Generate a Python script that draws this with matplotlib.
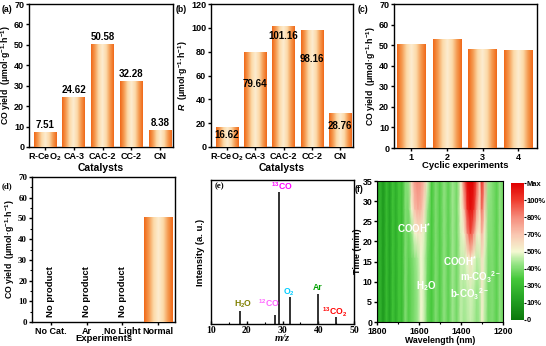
import matplotlib
matplotlib.use('Agg')
import matplotlib.pyplot as plt
import numpy as np
from matplotlib.colors import LinearSegmentedColormap

plt.rcParams['font.family'] = ['Liberation Sans', 'DejaVu Sans']
plt.rcParams['font.weight'] = 'bold'
plt.rcParams['axes.labelweight'] = 'bold'
plt.rcParams['font.size'] = 6.5
plt.rcParams['mathtext.fontset'] = 'custom'
plt.rcParams['mathtext.rm'] = 'Liberation Sans:bold'
plt.rcParams['mathtext.it'] = 'Liberation Sans:bold:italic'
plt.rcParams['mathtext.bf'] = 'Liberation Sans:bold'
plt.rcParams['axes.linewidth'] = 1.0

# ---- data ----
catalysts = ['R-CeO$_2$', 'CA-3', 'CAC-2', 'CC-2', 'CN']
co_yield = [7.51, 24.62, 50.58, 32.28, 8.38]
r_rate = [16.62, 79.64, 101.16, 98.16, 28.76]
r_label_y = [6.2, 26.6, 8.0, 24.6, 11.4]   # label sits this far below the bar top

cycles = ['1', '2', '3', '4']
cycle_yield = [50.6, 52.8, 48.3, 47.6]

experiments = ['No Cat.', 'Ar', 'No Light', 'Normal']
exp_yield = [0, 0, 0, 50.58]

mz = [18, 28, 29, 32, 40, 45]
ms_int = [0.088, 0.062, 0.92, 0.19, 0.206, 0.046]
ms_names = ['H$_2$O', '$^{12}$CO', '$^{13}$CO', 'O$_2$', 'Ar', '$^{13}$CO$_2$']
ms_colors = ['#808000', '#ff66ff', '#ff00ff', '#00ccff', '#00a000', '#ff0000']
ms_text_x = [18.9, 26.1, 29.7, 31.9, 39.9, 44.7]
ms_text_y = [0.137, 0.148, 0.96, 0.22, 0.255, 0.078]

# heat map: wavelength columns x time rows (relative intensity 0..1)
wl = [1800, 1785, 1770, 1755, 1740, 1725, 1710, 1695, 1680, 1665, 1650, 1635, 1620,
      1605, 1590, 1575, 1560, 1540, 1520, 1500, 1480, 1460, 1440, 1420, 1400, 1385,
      1370, 1355, 1340, 1325, 1312, 1300, 1288, 1270, 1250, 1230, 1215, 1200]
times = [0, 8, 16, 22, 28, 35]
heat = np.array([
    # t = 0
    [0.10, 0.22, 0.12, 0.25, 0.15, 0.28, 0.20, 0.30, 0.25, 0.38, 0.32, 0.35, 0.38,
     0.42, 0.50, 0.46, 0.35, 0.30, 0.38, 0.32, 0.40, 0.33, 0.42, 0.36, 0.45, 0.42,
     0.44, 0.46, 0.44, 0.40, 0.42, 0.52, 0.45, 0.36, 0.38, 0.33, 0.40, 0.35],
    # t = 8
    [0.10, 0.22, 0.12, 0.25, 0.15, 0.28, 0.20, 0.30, 0.25, 0.38, 0.32, 0.35, 0.38,
     0.42, 0.50, 0.46, 0.35, 0.30, 0.38, 0.32, 0.40, 0.33, 0.42, 0.36, 0.45, 0.43,
     0.45, 0.47, 0.45, 0.41, 0.43, 0.53, 0.46, 0.36, 0.38, 0.33, 0.40, 0.35],
    # t = 16
    [0.10, 0.22, 0.12, 0.25, 0.15, 0.28, 0.20, 0.30, 0.25, 0.38, 0.33, 0.36, 0.40,
     0.44, 0.50, 0.46, 0.36, 0.30, 0.38, 0.32, 0.40, 0.33, 0.42, 0.36, 0.46, 0.46,
     0.50, 0.56, 0.50, 0.45, 0.46, 0.56, 0.48, 0.37, 0.38, 0.33, 0.40, 0.35],
    # t = 22
    [0.10, 0.22, 0.12, 0.25, 0.15, 0.28, 0.20, 0.30, 0.25, 0.38, 0.34, 0.40, 0.50,
     0.54, 0.53, 0.48, 0.38, 0.30, 0.38, 0.32, 0.40, 0.33, 0.42, 0.36, 0.48, 0.52,
     0.74, 0.86, 0.74, 0.55, 0.50, 0.66, 0.52, 0.39, 0.38, 0.33, 0.40, 0.35],
    # t = 28
    [0.10, 0.22, 0.12, 0.25, 0.15, 0.28, 0.20, 0.30, 0.25, 0.38, 0.36, 0.50, 0.64,
     0.68, 0.66, 0.56, 0.42, 0.30, 0.38, 0.32, 0.40, 0.33, 0.42, 0.36, 0.50, 0.64,
     0.90, 0.97, 0.92, 0.72, 0.57, 0.80, 0.60, 0.40, 0.38, 0.33, 0.40, 0.35],
    # t = 35
    [0.10, 0.22, 0.12, 0.25, 0.15, 0.28, 0.20, 0.30, 0.25, 0.38, 0.40, 0.60, 0.72,
     0.75, 0.72, 0.64, 0.48, 0.30, 0.38, 0.32, 0.40, 0.33, 0.42, 0.36, 0.52, 0.80,
     0.98, 1.00, 0.98, 0.84, 0.62, 0.92, 0.70, 0.42, 0.38, 0.33, 0.40, 0.35],
])
cbar_labels = ['0', '10%', '30%', '40%', '50%', '70%', '80%', '100%', 'Max']

W, H = 546, 346
fig = plt.figure(figsize=(W / 100, H / 100), dpi=100)


def px_axes(left, right, top, bottom):
    return fig.add_axes([left / W, 1 - bottom / H, (right - left) / W, (bottom - top) / H])


bar_cmap = LinearSegmentedColormap.from_list(
    'bar', ['#f06818', '#f59a50', '#fcd9a8', '#fdecd0', '#fcd9a8', '#f59a50', '#f06818'])
grad = np.linspace(0, 1, 200).reshape(1, -1)

YLAB = 'CO yield  (μmol·g$^{-1}$·h$^{-1}$)'


def gradient_bars(ax, x, heights, width):
    bars = ax.bar(x, heights, width=width, color='#f06818', linewidth=0, zorder=2)
    xl, yl = ax.get_xlim(), ax.get_ylim()
    for b in bars:
        if b.get_height() <= 0:
            continue
        im = ax.imshow(grad, extent=[b.get_x(), b.get_x() + b.get_width(), 0, b.get_height()],
                       aspect='auto', cmap=bar_cmap, zorder=3)
        im.set_clip_path(b)
    ax.set_xlim(xl)
    ax.set_ylim(yl)
    return bars


def style_bar_axes(ax):
    ax.tick_params(direction='out', length=2.5, width=1, labelsize=6.5, pad=1)


# (a)
ax = px_axes(29, 173, 4, 147)
x = np.arange(len(catalysts))
ax.set_xlim(-0.56, 4.45)
ax.set_ylim(0, 70)
gradient_bars(ax, x, co_yield, 0.79)
for xi, v in zip(x, co_yield):
    ax.text(xi, v + 0.8, f'{v:.2f}', ha='center', va='bottom', fontsize=7, fontweight='bold')
ax.set_xticks(x)
ax.set_xticklabels(catalysts)
ax.set_yticks(range(0, 71, 10))
ax.set_xlabel('Catalysts', fontsize=7.5, labelpad=-0.5)
ax.set_ylabel(YLAB, fontsize=6.3, labelpad=0.5)
style_bar_axes(ax)

# (b)
ax = px_axes(211, 353, 4, 147)
ax.set_xlim(-0.56, 4.45)
ax.set_ylim(0, 120)
gradient_bars(ax, x, r_rate, 0.79)
for xi, v, d in zip(x, r_rate, r_label_y):
    ax.text(xi, v - d, f'{v:.2f}', ha='center', va='center', fontsize=7, fontweight='bold', zorder=5)
ax.set_xticks(x)
ax.set_xticklabels(catalysts)
ax.set_yticks(range(0, 121, 20))
ax.set_xlabel('Catalysts', fontsize=7.5, labelpad=-0.5)
ax.set_ylabel('$R$  (μmol·g$^{-1}$·h$^{-1}$)', fontsize=6.3, labelpad=0.5)
style_bar_axes(ax)

# (c)
ax = px_axes(394, 537, 4, 148)
xc = np.arange(1, len(cycles) + 1)
ax.set_xlim(0.52, 4.52)
ax.set_ylim(0, 70)
gradient_bars(ax, xc, cycle_yield, 0.8)
ax.set_xticks(xc)
ax.set_xticklabels(cycles)
ax.set_yticks(range(0, 71, 10))
ax.set_xlabel('Cyclic experiments', fontsize=6.8, labelpad=-0.5)
ax.set_ylabel(YLAB, fontsize=6.3, labelpad=0.5)
style_bar_axes(ax)

# (d)
ax = px_axes(32, 175, 177, 322)
xd = np.arange(len(experiments))
ax.set_xlim(-0.53, 3.47)
ax.set_ylim(0, 70)
gradient_bars(ax, xd, exp_yield, 0.81)
for xi, v in zip(xd, exp_yield):
    if v == 0:
        ax.text(xi, 2.2, 'No product', rotation=90, ha='center', va='bottom', fontsize=6.8,
                fontweight='bold')
ax.set_xticks(xd)
ax.set_xticklabels(experiments)
ax.set_yticks(range(0, 71, 10))
ax.set_yticks(range(5, 70, 10), minor=True)
style_bar_axes(ax)
for lab in ax.get_yticklabels():
    lab.set_fontfamily('Liberation Serif')
ax.set_xlabel('Experiments', fontsize=6.8, labelpad=-1)
ax.set_ylabel(YLAB, fontsize=6.3, labelpad=0.5)
ax.tick_params(axis='y', which='minor', direction='out', length=1.5, width=0.8)

# (e)
ax = px_axes(211, 354, 180, 324)
ax.vlines(mz, 0, ms_int, color='#222222', linewidth=1.3)
for tx, ty, name, c in zip(ms_text_x, ms_text_y, ms_names, ms_colors):
    ax.text(tx, ty, name, color=c, ha='center', va='center', fontsize=6.2, fontweight='bold')
ax.set_xlim(10, 50)
ax.set_ylim(0, 1)
ax.set_yticks([])
ax.set_xticks(range(10, 51, 10))
ax.set_xticks(range(15, 50, 10), minor=True)
ax.tick_params(axis='x', direction='in', length=2.5, width=1, labelsize=7, pad=1.5)
ax.tick_params(axis='x', which='minor', direction='in', length=1.5, width=0.8)
for lab in ax.get_xticklabels():
    lab.set_fontfamily('Liberation Serif')
ax.set_xlabel('m/z', fontsize=7.5, fontfamily='Liberation Serif', style='italic', labelpad=-1)
ax.set_ylabel('Intensity (a. u.)', fontsize=6.8, labelpad=4)

# (f)
ax = px_axes(377, 503, 181, 322)
heat_cmap = LinearSegmentedColormap.from_list('ir', [
    (0.0, '#0b780b'), (0.15, '#23a223'), (0.3, '#45c83a'), (0.42, '#9fe78e'),
    (0.5, '#f4f8d2'), (0.62, '#f9c8b2'), (0.75, '#f58c7c'), (0.88, '#ef3a2c'),
    (1.0, '#e00000')])
mesh = ax.pcolormesh(wl, times, heat, cmap=heat_cmap, vmin=0, vmax=1, shading='gouraud',
                     rasterized=True)
ax.set_xlim(1800, 1200)
ax.set_ylim(0, 35)
ax.set_xticks([1800, 1600, 1400, 1200])
ax.set_xticks([1700, 1500, 1300], minor=True)
ax.set_yticks(range(0, 36, 5))
ax.tick_params(direction='out', length=2.5, width=1, labelsize=6.3, pad=1)
ax.tick_params(which='minor', direction='out', length=1.5, width=0.8)
ax.set_xlabel('Wavelength (nm)', fontsize=6.3, labelpad=0)
ax.set_ylabel('Time (min)', fontsize=6.5, labelpad=0.5)
for s in ax.spines.values():
    s.set_linewidth(0.8)
for tx, ty, txt in [(1622, 23.4, 'COOH$^{*}$'), (1406, 15.0, 'COOH$^{*}$'),
                    (1305, 11.2, 'm-CO$_3$$^{2-}$'), (1568, 8.9, 'H$_2$O'),
                    (1359, 7.0, 'b-CO$_3$$^{2-}$')]:
    ax.text(tx, ty, txt, color='white', ha='center', va='center', fontsize=7, fontweight='bold')

cax = px_axes(511, 524, 183, 320)
cb = fig.colorbar(mesh, cax=cax, ticks=np.linspace(0, 1, 9))
cb.ax.set_yticklabels(cbar_labels)
cb.outline.set_visible(False)
cb.ax.tick_params(length=1.5, width=0.8, labelsize=5.4, pad=0.5)

# panel labels
for lx, ly, lab, fam in [(2, 10, '(a)', 'Liberation Sans'), (176, 10, '(b)', 'Liberation Sans'),
                         (358, 10, '(c)', 'Liberation Sans'), (2, 186, '(d)', 'Liberation Serif'),
                         (215, 186, '(e)', 'Liberation Serif'), (355, 189, '(f)', 'Liberation Sans')]:
    fig.text(lx / W, 1 - ly / H, lab, fontsize=6.3, fontweight='bold', fontfamily=fam, va='center')

fig.savefig('out.png', dpi=100)
